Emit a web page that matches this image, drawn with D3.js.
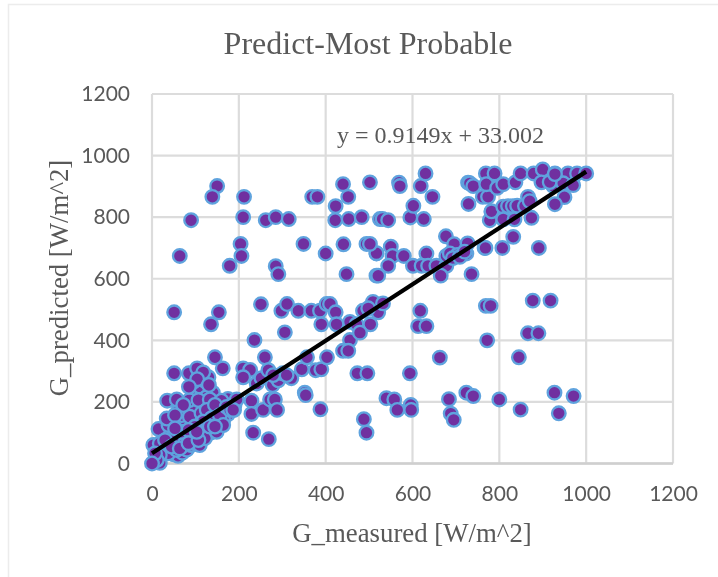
<!DOCTYPE html>
<html><head><meta charset="utf-8">
<script src="https://cdn.jsdelivr.net/npm/d3@7/dist/d3.min.js"></script>
<style>html,body{margin:0;padding:0;background:#fff;overflow:hidden}svg{display:block;filter:blur(0.35px)}</style>
</head><body><svg id="c" width="718" height="577"></svg>
<script>
const chartTitle = "Predict-Most Probable";
const xTitle = "G_measured [W/m^2]";
const yTitle = "G_predicted [W/m^2]";
const trendLabel = "y = 0.9149x + 33.002";
const trendSlope = 0.9149, trendIntercept = 33.002, trendDomain = [0, 1000];
const tickValues = [0,200,400,600,800,1000,1200];

// [measured, predicted]
const denseFill = [[20,20],[30,40],[25,55],[40,45],[50,30],[60,25],[70,35],[80,45],[90,60],[100,65],[110,60],[120,95],[135,100],[150,120],[165,150],[175,160],[190,190],[170,200],[150,170],[130,160],[110,150],[95,135],[80,125],[65,85],[55,70],[40,95],[25,100],[50,135],[60,170],[75,175],[90,180],[105,190],[120,185],[135,170],[145,155],[120,120],[100,100],[85,90],[70,75],[150,195],[175,210],[115,225],[95,230],[110,250],[120,270],[100,290],[130,280],[95,265],[140,230],[125,215]];
const lowCluster = [[18,2],[3,60],[18,65],[38,33],[72,60],[57,44],[49,87],[91,82],[122,82],[149,103],[164,141],[156,130],[64,130],[15,112],[38,125],[34,146],[68,157],[100,174],[35,204],[57,208],[86,206],[107,206],[133,208],[160,204],[87,152],[114,163],[126,174],[145,190],[72,190],[53,157],[137,147],[118,136],[99,120],[68,103],[84,109],[53,114],[30,76],[45,55],[18,28],[11,11],[7,33],[64,49],[84,66],[107,76],[103,103],[133,120],[156,157],[172,184],[180,174],[164,125],[145,120],[189,174],[51,293],[85,293],[104,309],[118,296],[104,274],[131,255],[85,249],[145,345],[163,309],[195,208],[187,174],[0,0]];
const midCluster = [[229,204],[229,161],[256,174],[272,208],[283,208],[288,174],[236,401],[260,345],[210,309],[226,304],[210,280],[241,260],[252,277],[268,303],[278,255],[291,270],[301,293],[321,277],[345,306],[377,303],[390,306],[310,287],[279,287],[357,345],[403,345],[352,230],[354,222],[388,176],[233,100],[269,79],[306,426],[298,496],[311,518],[337,496],[367,496],[387,496],[402,518],[410,518],[423,491],[251,517],[390,452],[425,452],[456,460],[471,452],[503,452],[521,491],[509,525],[532,520],[486,496],[498,504],[456,401],[479,425],[440,366],[452,366]];
const offDiagonalLow = [[473,293],[496,293],[594,293],[488,144],[494,100],[540,212],[558,208],[565,174],[596,190],[597,174],[663,344],[684,209],[724,230],[740,219],[800,208],[845,345],[849,175],[927,230],[971,219],[937,163],[688,162],[695,142],[772,400],[769,512],[780,512],[877,529],[918,529],[866,423],[890,423],[618,496],[613,446],[632,446],[51,491],[154,491],[136,452]];
const midUpper = [[517,683],[550,704],[554,674],[580,674],[632,682],[544,642],[521,610],[601,642],[621,642],[636,642],[655,642],[678,642],[665,610],[736,615],[677,738],[696,712],[727,715],[766,700],[502,713],[678,674],[686,682],[724,682],[703,677],[693,667],[709,671],[720,688],[768,700],[807,700],[891,700],[832,736],[782,817],[778,790],[729,843],[782,819],[809,834],[820,836],[831,836],[841,837],[859,836],[866,866],[870,852],[809,793],[835,793],[874,798]];
const topBand = [[150,901],[139,866],[212,866],[90,790],[210,800],[262,790],[285,800],[315,794],[369,866],[381,866],[440,907],[502,913],[452,866],[423,836],[422,790],[453,794],[483,800],[204,713],[206,674],[64,674],[179,642],[285,641],[291,615],[349,713],[400,682],[441,712],[494,713],[517,682],[448,615],[517,610],[525,794],[531,794],[544,790],[569,912],[571,901],[595,799],[602,837],[619,901],[626,794],[630,942],[646,866],[728,912],[732,910],[740,901],[762,866],[769,942],[774,866],[770,907],[789,942],[795,895],[809,907],[837,913],[849,942],[879,942],[900,955],[928,942],[958,942],[979,942],[1000,942],[897,913],[924,902],[916,914],[947,910],[970,904],[928,940],[950,865],[928,842]];
const points = [...offDiagonalLow, ...topBand, ...midUpper, ...midCluster, ...denseFill, ...lowCluster];

const svg = d3.select("#c");
const x = d3.scaleLinear().domain([0,1200]).range([152,673]);
const y = d3.scaleLinear().domain([0,1200]).range([463.5,94]);
const grey = "#595959";
const serif = "'Liberation Serif','Times New Roman',serif";

// outer frame
svg.append("path").attr("d","M8.5,577V4.5H718").attr("fill","none").attr("stroke","#ececec").attr("stroke-width",1.5);

// grid
const g = svg.append("g").attr("stroke","#dcdcdc").attr("stroke-width",2.2);
tickValues.forEach(t=>{
  g.append("line").attr("x1",x(t)).attr("x2",x(t)).attr("y1",y(1200)).attr("y2",y(0));
  g.append("line").attr("x1",x(0)).attr("x2",x(1200)).attr("y1",y(t)).attr("y2",y(t));
});
svg.append("line").attr("x1",x(0)).attr("x2",x(1200)).attr("y1",y(0)).attr("y2",y(0)).attr("stroke","#cfcfcf").attr("stroke-width",2.4);

// axes labels through d3 axes
const fmt = d3.format("d");
const ax = svg.append("g").attr("transform",`translate(0,${y(0)})`).call(d3.axisBottom(x).tickValues(tickValues).tickFormat(fmt).tickSize(0).tickPadding(23));
const ay = svg.append("g").attr("transform",`translate(${x(0)},0)`).call(d3.axisLeft(y).tickValues(tickValues).tickFormat(fmt).tickSize(0).tickPadding(22));
[ax,ay].forEach(a=>{a.select(".domain").remove();a.selectAll("text").attr("fill",grey).style("font-family","Lato,'Open Sans',sans-serif").style("font-size","21px");});

// points
svg.append("g").selectAll("circle").data(points).join("circle")
  .attr("cx",d=>x(d[0])).attr("cy",d=>y(d[1])).attr("r",6.8)
  .attr("fill","#7030a0").attr("stroke","#5fa3de").attr("stroke-width",2.3);

// trendline
svg.append("line").attr("x1",x(trendDomain[0])).attr("y1",y(trendSlope*trendDomain[0]+trendIntercept))
  .attr("x2",x(trendDomain[1])).attr("y2",y(trendSlope*trendDomain[1]+trendIntercept))
  .attr("stroke","#000").attr("stroke-width",4.2);

// texts
const txt=(s,xx,yy,size,anchor,rot)=>{const t=svg.append("text").text(s).attr("fill",grey).style("font-family",serif).style("font-size",size+"px").attr("text-anchor",anchor||"middle");
 if(rot)t.attr("transform",`translate(${xx},${yy}) rotate(-90)`);else t.attr("x",xx).attr("y",yy);return t;};
txt(chartTitle,368,54,32);
txt(trendLabel,337,143,24,"start");
txt(xTitle,412,542,26.8);
txt(yTitle,68,278,26.8,"middle",true);
</script></body></html>
